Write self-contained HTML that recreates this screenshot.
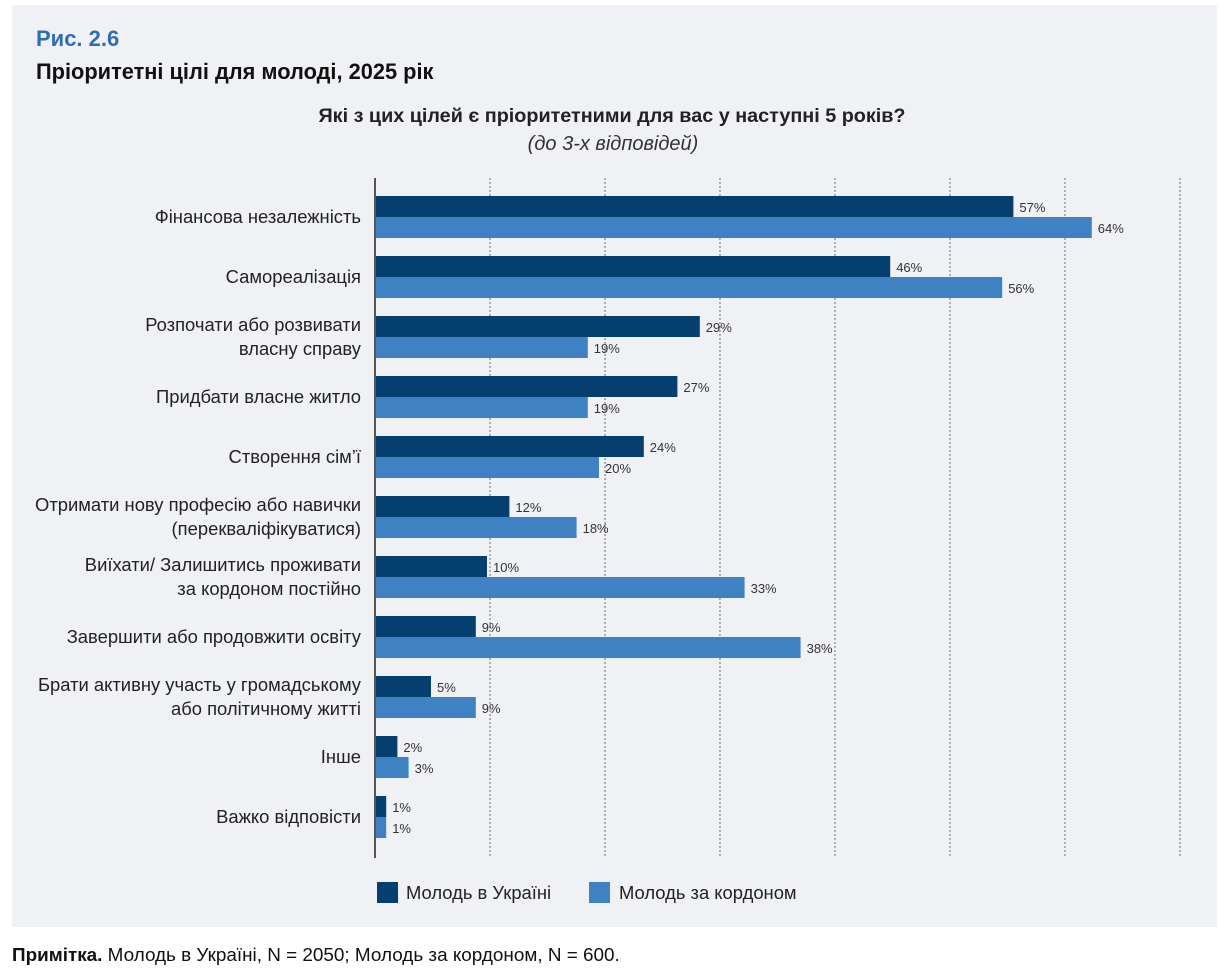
<!DOCTYPE html>
<html><head><meta charset="utf-8">
<style>
body{margin:0;width:1225px;height:978px;background:#fff;font-family:"Liberation Sans",sans-serif;overflow:hidden}
#panel{position:absolute;left:12px;top:5px;width:1205px;height:922px;background:#eff1f5}
</style></head><body>
<div id="panel"></div>
<svg width="1225" height="978" style="position:absolute;left:0;top:0">
<text x="36" y="46" font-size="22" font-weight="bold" fill="#2f6db5">Рис. 2.6</text>
<text x="36" y="79" font-size="21.8" font-weight="bold" fill="#111">Пріоритетні цілі для молоді, 2025 рік</text>
<text x="612" y="122" font-size="19.8" font-weight="bold" fill="#222" text-anchor="middle">Які з цих цілей є пріоритетними для вас у наступні 5 років?</text>
<text x="613" y="150" font-size="20" font-style="italic" fill="#333" text-anchor="middle">(до 3-х відповідей)</text>
<g id="grid"></g><g id="bars"></g><g id="labels"></g>
<line x1="375" y1="178" x2="375" y2="858" stroke="#555" stroke-width="2"/>
<rect x="377" y="882" width="21" height="21" fill="#043f6f"/>
<text x="406" y="899" font-size="18.4" fill="#222">Молодь в Україні</text>
<rect x="589" y="882" width="21" height="21" fill="#3f82c4"/>
<text x="619" y="899" font-size="18.4" fill="#222">Молодь за кордоном</text>
<text x="12" y="961" font-size="18.9" fill="#111"><tspan font-weight="bold">Примітка.</tspan> Молодь в Україні, N = 2050; Молодь за кордоном, N = 600.</text>
</svg>
<script>
const categories=[["Фінансова незалежність"],["Самореалізація"],["Розпочати або розвивати","власну справу"],["Придбати власне житло"],["Створення сім’ї"],["Отримати нову професію або навички","(перекваліфікуватися)"],["Виїхати/ Залишитись проживати","за кордоном постійно"],["Завершити або продовжити освіту"],["Брати активну участь у громадському","або політичному житті"],["Інше"],["Важко відповісти"]];
const ukraine=[57,46,29,27,24,12,10,9,5,2,1];
const abroad=[64,56,19,19,20,18,33,38,9,3,1];
const gridTicks=[10.27,20.54,30.8,41.07,51.34,61.6,71.87];
const NS="http://www.w3.org/2000/svg";
const x0=375,pxPer=11.2;
const xs=v=>x0+v*pxPer;
const rowY=i=>196+i*60;
function mk(t,a,p){const e=document.createElementNS(NS,t);for(const k in a)e.setAttribute(k,a[k]);document.getElementById(p).appendChild(e);return e;}
gridTicks.forEach(t=>{const l=mk('line',{x1:xs(t),x2:xs(t),y1:178,y2:858,stroke:'#999','stroke-width':1.5,'stroke-dasharray':'2,2'},'grid');

});
categories.forEach((c,i)=>{
 const y=rowY(i);
 const b1=mk('rect',{x:x0,y:y,width:xs(ukraine[i])-x0,height:21,fill:'#043f6f'},'bars');
 
 
 const b2=mk('rect',{x:x0,y:y+21,width:xs(abroad[i])-x0,height:21,fill:'#3f82c4'},'bars');
 
 
 const v1=mk('text',{x:xs(ukraine[i])+6,y:y+16,'font-size':13,fill:'#333'},'labels');v1.textContent=ukraine[i]+'%';
 
 
 const v2=mk('text',{x:xs(abroad[i])+6,y:y+37,'font-size':13,fill:'#333'},'labels');v2.textContent=abroad[i]+'%';
 
 
 const cy=y+21;
 c.forEach((line,j)=>{const t=mk('text',{x:361,y:cy+6+(j-(c.length-1)/2)*24,'font-size':18.4,fill:'#222','text-anchor':'end'},'labels');t.textContent=line;
 
 });
});
</script>
</body></html>
